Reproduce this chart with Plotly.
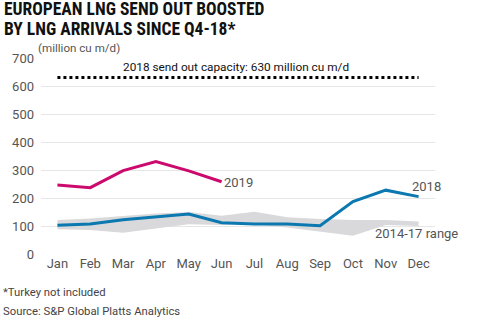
import plotly.graph_objects as go

months = ["Jan", "Feb", "Mar", "Apr", "May", "Jun", "Jul", "Aug", "Sep", "Oct", "Nov", "Dec"]
s2019 = [246, 237, 298, 330, 297, 258]
s2018 = [103, 107, 122, 132, 143, 112, 107, 107, 101, 187, 228, 205]
range_hi = [121, 127, 136, 145, 150, 137, 151, 131, 125, 121, 121, 116]
range_lo = [88, 86, 76, 92, 106, 104, 106, 95, 80, 65, 104, 100]
capacity = 630

x = list(range(len(months)))
FONT = "Roboto"
GREY = "#555555"

W, H = 485, 321
pl, pr, pt, pb = 36, 50, 58, 67
pw, ph = W - pl - pr, H - pt - pb

def px(a):
    return (a - pl) / pw

def py(b):
    return 1 - (b - pt) / ph

fig = go.Figure()
fig.add_trace(go.Scatter(x=x, y=range_hi, mode="lines", line=dict(width=0), hoverinfo="skip", showlegend=False))
fig.add_trace(go.Scatter(x=x, y=range_lo, mode="lines", line=dict(width=0), fill="tonexty",
                         fillcolor="#d9d9db", showlegend=False))
fig.add_trace(go.Scatter(x=[0, 11], y=[capacity, capacity], mode="lines",
                         line=dict(color="black", width=3, dash="dot"), showlegend=False))
fig.add_trace(go.Scatter(x=x, y=s2018, mode="lines", line=dict(color="#0b78b0", width=3), showlegend=False))
fig.add_trace(go.Scatter(x=x[:len(s2019)], y=s2019, mode="lines", line=dict(color="#cc0a6e", width=3), showlegend=False))

TF = dict(family="Roboto Condensed", size=17.5, color="#111111")

def ann(text, x0, y0, xanchor="left", font=None):
    return dict(text=text, xref="paper", yref="paper", x=px(x0), y=py(y0), showarrow=False,
                xanchor=xanchor, yanchor="middle", font=font, borderpad=0)

fig.update_layout(
    width=W, height=H,
    margin=dict(l=pl, r=pr, t=pt, b=pb),
    plot_bgcolor="white", paper_bgcolor="white",
    font=dict(family=FONT, size=13, color=GREY),
    xaxis=dict(range=[-0.5, 11.5], tickvals=x, ticktext=months, showgrid=False, zeroline=False,
               showline=False, ticks="", tickfont=dict(size=13, color=GREY)),
    yaxis=dict(range=[0, 700], tickvals=[0, 100, 200, 300, 400, 500, 600, 700], showgrid=True,
               gridcolor="#e6e6e6", gridwidth=1, zeroline=False, showline=False, ticks="",
               ticklabelstandoff=6, tickfont=dict(size=13, color=GREY)),
    annotations=[
        ann("<b>EUROPEAN LNG SEND OUT BOOSTED</b>", -2, 8.5, font=TF),
        ann("<b>BY LNG ARRIVALS SINCE Q4-18*</b>", -2, 29, font=TF),
        ann("(million cu m/d)", 32, 48, font=dict(size=11.6, color=GREY)),
        ann("2018 send out capacity: 630 million cu m/d", 233, 67, xanchor="center",
            font=dict(size=11.8, color="#111111")),
        ann("2019", 220, 182, font=dict(size=13, color=GREY)),
        ann("2018", 411, 186, font=dict(size=13, color=GREY)),
        ann("2014-17 range", 373, 233, font=dict(size=13, color=GREY)),
        ann("*Turkey not included", -3, 292, font=dict(size=11.3, color="#444444")),
        ann("Source: S&P Global Platts Analytics", -3, 311, font=dict(size=11.3, color="#444444")),
    ],
)

fig.write_html("out.html")
